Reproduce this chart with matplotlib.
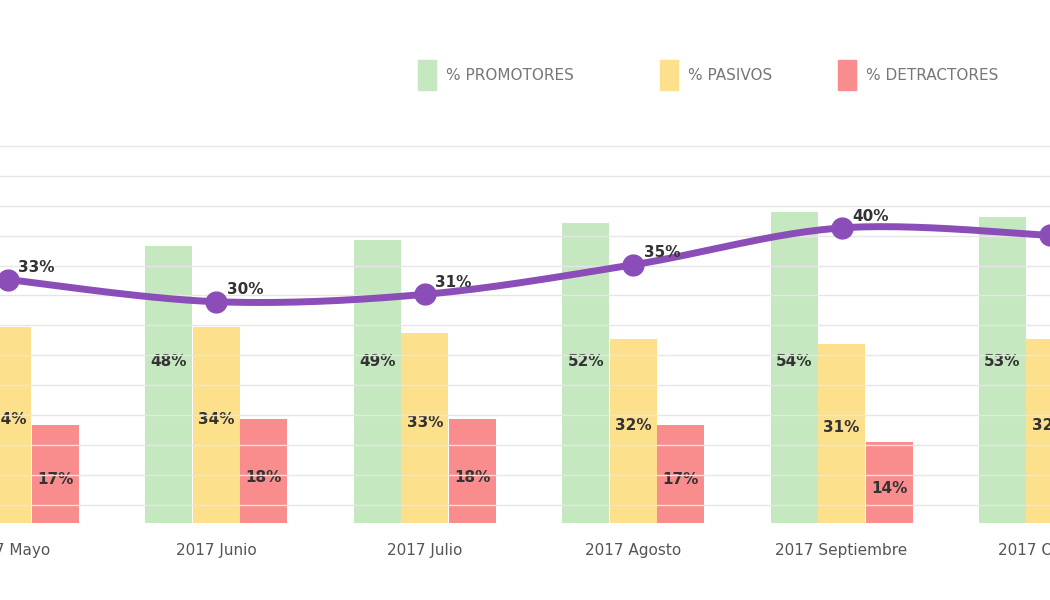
import numpy as np
import matplotlib.pyplot as plt

meses = ["2017 Mayo", "2017 Junio", "2017 Julio", "2017 Agosto", "2017 Septiembre", "2017 Octubre"]
promotores = [50, 48, 49, 52, 54, 53]
pasivos = [34, 34, 33, 32, 31, 32]
detractores = [17, 18, 18, 17, 14, 15]
nps = [33, 30, 31, 35, 40, 39]

verde, amarillo, rojo, morado = "#c6e8c1", "#fde08c", "#f98c8c", "#8b4db8"

fig = plt.figure(figsize=(10.5, 6), dpi=100)
ax = fig.add_axes([0, 0.128, 1, 0.63])
ax2 = ax.twinx()
x = np.arange(len(meses))
w = 0.228

ax.bar(x - w, promotores, w * 0.99, color=verde, zorder=2)
ax.bar(x, pasivos, w * 0.99, color=amarillo, zorder=2)
ax.bar(x + w, detractores, w * 0.99, color=rojo, zorder=2)
for i in x:
    kw = dict(ha="center", va="center", fontsize=11, fontweight="bold", color="#333333", zorder=3)
    ax.text(i - w, 28, f"{promotores[i]}%", **kw)
    ax.text(i, pasivos[i] / 2 + 1, f"{pasivos[i]}%", **kw)
    ax.text(i + w, detractores[i] / 2 - 1, f"{detractores[i]}%", **kw)

ax.set_xlim(-0.038, 4.95)
ax.set_ylim(0, 65.5)
ax2.set_ylim(0, 51.2)
ax.set_yticks([])
ax2.set_yticks(np.arange(51.1, 1, -4.05))
ax2.tick_params(axis="y", length=0, labelright=False)
ax2.grid(axis="y", color="#e6e6e6", lw=1)
ax.set_zorder(ax2.get_zorder() - 1)
ax2.patch.set_visible(True)
ax2.patch.set_alpha(0)
for a in (ax, ax2):
    for s in a.spines.values():
        s.set_visible(False)
ax.set_xticks(x)
ax.set_xticklabels(meses, fontsize=11, color="#555555")
ax.tick_params(axis="x", length=0, pad=14)

# smooth line (Catmull-Rom)
px, py = x.astype(float), np.array(nps, float)
xs, ys = [], []
for k in range(len(px) - 1):
    p0 = max(k - 1, 0); p3 = min(k + 2, len(px) - 1)
    t = np.linspace(0, 1, 30)
    for arr, out in ((px, xs), (py, ys)):
        a, b, c, d = arr[p0], arr[k], arr[k + 1], arr[p3]
        out.extend(0.5 * (2 * b + (-a + c) * t + (2 * a - 5 * b + 4 * c - d) * t**2 + (-a + 3 * b - 3 * c + d) * t**3))
ax2.plot(xs, ys, color=morado, lw=5, zorder=4)
ax2.plot(px, py, "o", color=morado, ms=15, zorder=5)
for i in x:
    ax2.text(i + 0.05, nps[i] + 1.0, f"{nps[i]}%", fontsize=11, fontweight="bold", color="#333333", zorder=6)

labels = ["% PROMOTORES", "% PASIVOS", "% DETRACTORES"]
for lx, lab, col in zip([418, 660, 838], labels, [verde, amarillo, rojo]):
    fig.patches.append(plt.Rectangle((lx / 1050, 1 - 90 / 600), 18 / 1050, 30 / 600,
                                     transform=fig.transFigure, color=col))
    fig.text((lx + 28) / 1050, 1 - 75 / 600, lab, fontsize=11, color="#777777", va="center")

fig.savefig("out.png", dpi=100)
